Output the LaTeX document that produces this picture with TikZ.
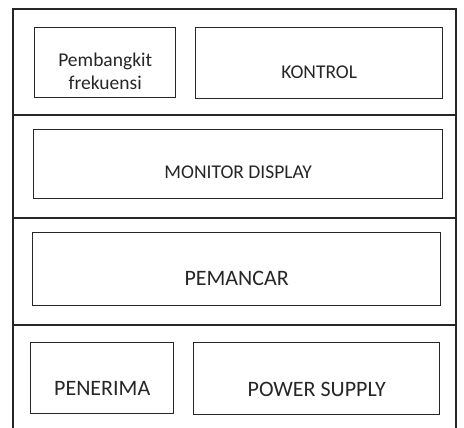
\documentclass[tikz,border=0pt]{standalone}
\usepackage{fontspec}
\setmainfont{Carlito}
\begin{document}
\begin{tikzpicture}[x=1pt,y=-1pt,
  frame/.style={draw=black!85,line width=1.1pt},
  blk/.style={draw=black!85,line width=1.4pt,rectangle,inner sep=0pt,anchor=north west},
  lblA/.style={font=\fontsize{19.5}{23}\selectfont,align=center,text=black!85},
  lblB/.style={font=\fontsize{22}{26}\selectfont,align=center,text=black!85}]
\useasboundingbox (0,0) rectangle (464,428);
\fill[white] (0,0) rectangle (464,428);
% outer frame and dividers
\coordinate (tl) at (13,9);
\coordinate (tr) at (456,9);
\coordinate (bl) at (13,428);
\coordinate (br) at (456,428);
\draw[frame] (bl) -- (tl) -- (tr) -- (br);
\coordinate (d1l) at (13,115); \coordinate (d1r) at (456,115);
\coordinate (d2l) at (13,218); \coordinate (d2r) at (456,218);
\coordinate (d3l) at (13,325); \coordinate (d3r) at (456,325);
\draw[frame] (d1l) -- (d1r);
\draw[frame] (d2l) -- (d2r);
\draw[frame] (d3l) -- (d3r);
% blocks
\node[blk,minimum width=141pt,minimum height=70pt] (pf) at (34,27) {};
\node[blk,minimum width=247pt,minimum height=71pt] (ko) at (195,27) {};
\node[blk,minimum width=409pt,minimum height=69pt] (md) at (33,129) {};
\node[blk,minimum width=408pt,minimum height=73pt] (pm) at (32,232) {};
\node[blk,minimum width=143pt,minimum height=71pt] (pn) at (30,342) {};
\node[blk,minimum width=246pt,minimum height=72pt] (ps) at (193,342) {};
% labels
\node[lblA] (tpf) at ([yshift=-9pt]pf.center) {Pembangkit\\frekuensi};
\node[lblA] (tko) at ([yshift=-9pt]ko.center) {KONTROL};
\node[lblA] (tmd) at ([yshift=-8pt]md.center) {MONITOR DISPLAY};
\node[lblB] (tpm) at ([yshift=-9pt]pm.center) {PEMANCAR};
\node[lblB] (tpn) at ([yshift=-10pt]pn.center) {PENERIMA};
\node[lblB] (tps) at ([yshift=-11pt]ps.center) {POWER SUPPLY};
\end{tikzpicture}
\end{document}
